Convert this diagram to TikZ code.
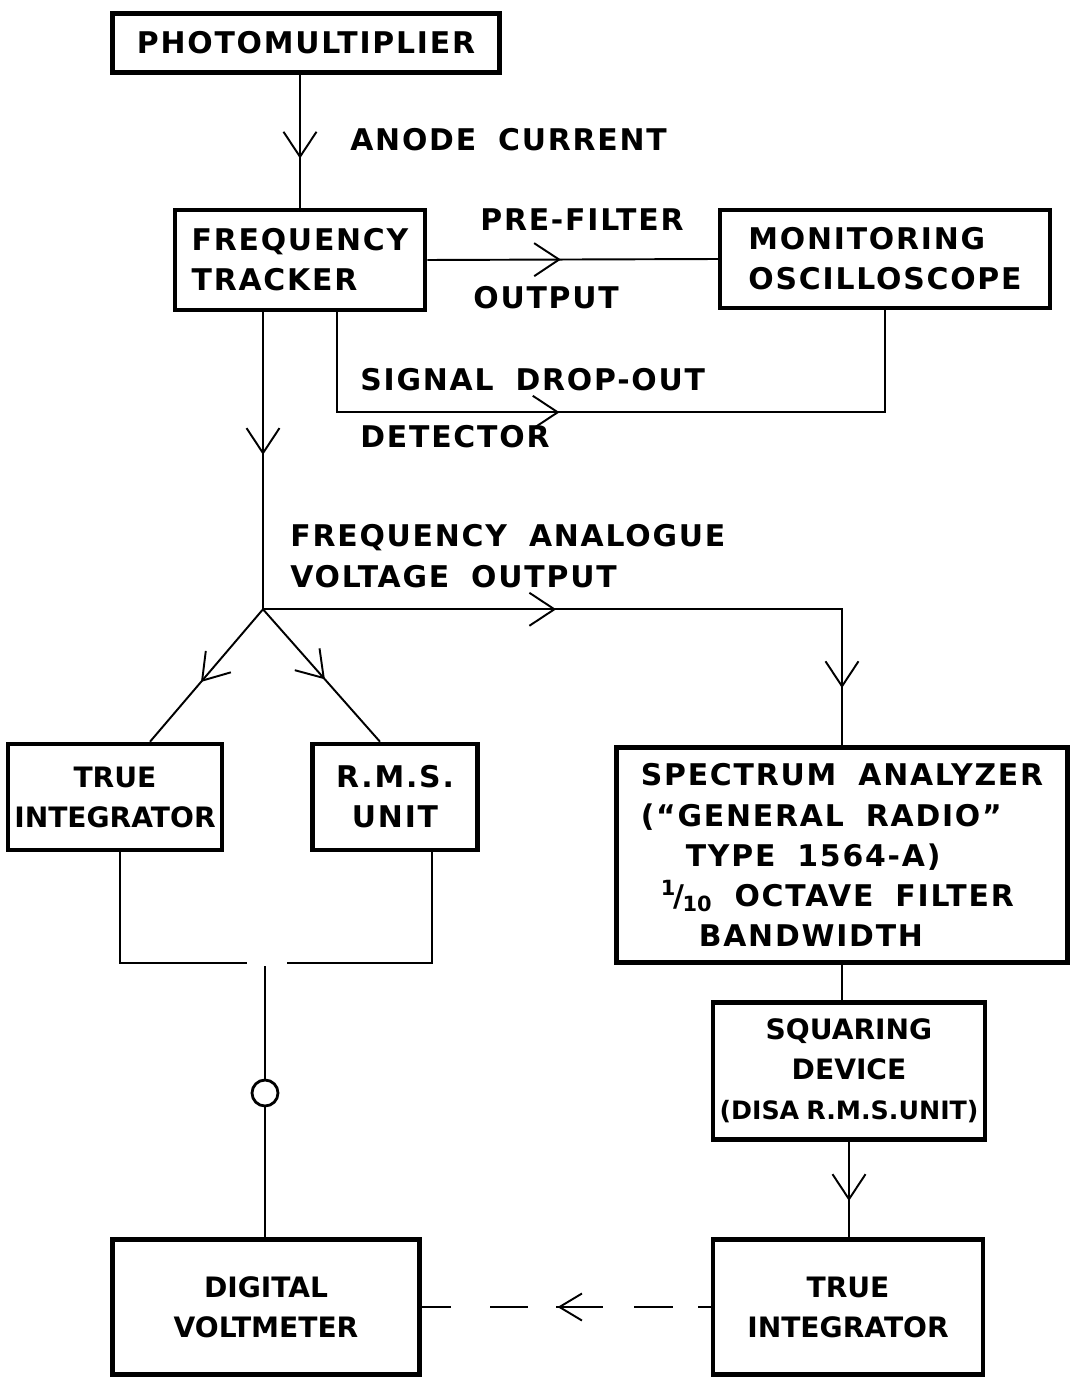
\documentclass[tikz,border=0pt]{standalone}
\usepackage{fontspec}
\usepackage{tikz}
\usetikzlibrary{arrows.meta,positioning,calc,decorations.markings}
\newfontfamily\lettering[LetterSpace=6, WordSpace=1.8]{DejaVu Sans Bold}
\newfontfamily\letteringnarrow[LetterSpace=0, WordSpace=0.8]{DejaVu Sans Bold}

\begin{document}
\begin{tikzpicture}[
  x=0.02cm, y=-0.02cm,
  block/.style={draw, line width=2.6pt, align=center, inner sep=0pt, font=\lettering\fontsize{17}{22.8}\selectfont},
  narrowblock/.style={block, font=\letteringnarrow\fontsize{16}{22.8}\selectfont},
  wire/.style={line width=1.1pt},
  wiretext/.style={anchor=west, inner sep=0pt, font=\lettering\fontsize{17}{22.8}\selectfont},
  midtip/.style={postaction={decorate}, decoration={markings, mark=at position #1 with {\arrow{Straight Barb[length=5mm, width=6.6mm]}}}},
  twotips/.style 2 args={postaction={decorate}, decoration={markings,
      mark=at position #1 with {\arrow{Straight Barb[length=5mm, width=6.6mm]}},
      mark=at position #2 with {\arrow{Straight Barb[length=5mm, width=6.6mm]}}}},
]
  \useasboundingbox (0,0) rectangle (1072,1378);

  % blocks
  \node[block, minimum width=7.74cm, minimum height=1.18cm] (pmt) at (306,43) {PHOTOMULTIPLIER};
  \node[block, align=left, minimum width=5cm, minimum height=2cm] (tracker) at (300,260) {FREQUENCY\\TRACKER};
  \node[block, align=left, minimum width=6.6cm, minimum height=1.96cm] (osc) at (885,259) {MONITORING\\OSCILLOSCOPE};
  \node[narrowblock, minimum width=4.28cm, minimum height=2.12cm] (tiL) at (115,797) {TRUE\\INTEGRATOR};
  \node[block, minimum width=3.3cm, minimum height=2.12cm] (rms) at (395,797) {R.M.S.\\UNIT};
  \node[block, align=left, minimum width=9.02cm, minimum height=4.3cm] (spec) at (842,855) {SPECTRUM ANALYZER\\(“GENERAL RADIO”\\\hspace*{0.9cm}TYPE 1564-A)\\\hspace*{0.4cm}{\letteringnarrow\textsuperscript{1}\kern-0.1em/\kern-0.05em\textsubscript{10}} OCTAVE FILTER\\\hspace*{1.16cm}BANDWIDTH};
  \node[narrowblock, minimum width=5.44cm, minimum height=2.74cm] (sq) at (849,1071) {SQUARING\\DEVICE\\{\fontsize{14.4}{22.8}\selectfont (DISA R.M.S.UNIT)}};
  \node[narrowblock, minimum width=6.14cm, minimum height=2.7cm] (dvm) at (266,1307) {DIGITAL\\VOLTMETER};
  \node[narrowblock, minimum width=5.4cm, minimum height=2.7cm] (tiR) at (848,1307) {TRUE\\INTEGRATOR};

  % texts on the wires
  \node[wiretext] (anode) at (350,140) {ANODE CURRENT};
  \node[wiretext] (prefilter) at (480,220) {PRE-FILTER};
  \node[wiretext] (output) at (473,298) {OUTPUT};
  \node[wiretext] (dropout) at (360,380) {SIGNAL DROP-OUT};
  \node[wiretext] (detector) at (360,437) {DETECTOR};
  \node[wiretext] (analogue) at (290,538) {FREQUENCY ANALOGUE};
  \node[wiretext] (voltage) at (290,577) {VOLTAGE OUTPUT};

  % wires
  \coordinate (junction) at ($(tracker.south)+(-37,297)$);
  \coordinate (swleft) at (247,963);
  \coordinate (swright) at (287,963);
  \coordinate (swpivot) at (265,966);
  \node[circle, draw, line width=1.6pt, minimum size=0.52cm, inner sep=0pt] (lamp) at (265,1093) {};

  \draw[wire, midtip=0.63] (pmt.south -| tracker.north) -- (tracker.north);
  \draw[wire, midtip=0.46] (tracker.east) -- (osc.west);
  \draw[wire, midtip=0.43] ($(tracker.south)+(37,0)$) -- ++(0,100) -| (osc.south);
  \draw[wire, midtip=0.48] ($(tracker.south)+(-37,0)$) -- (junction);
  \draw[wire, twotips={0.41}{0.92}] (junction) -| (spec.north);
  \draw[wire, midtip=0.55] (junction) -- ($(tiL.north)+(35,0)$);
  \draw[wire, midtip=0.53] (junction) -- ($(rms.north)+(-15,0)$);
  \draw[wire] ($(tiL.south)+(5,0)$) |- (swleft);
  \draw[wire] ($(rms.south)+(37,0)$) |- (swright);
  \draw[wire] (swpivot) -- (lamp) -- (lamp |- dvm.north);
  \draw[wire] (spec.south) -- (spec.south |- sq.north);
  \draw[wire, midtip=0.62] (sq.south) -- (sq.south |- tiR.north);
  \draw[wire, dash pattern={on 0.26cm off 0.5cm on 0.78cm off 0.62cm on 0.94cm off 0.56cm on 0.76cm off 0.78cm on 0.7cm},
    postaction={decorate}, decoration={markings, mark=at position 0.53 with {\arrow{Straight Barb[length=4.5mm, width=5.4mm]}}}]
    (tiR.west) -- (dvm.east);
\end{tikzpicture}
\end{document}
